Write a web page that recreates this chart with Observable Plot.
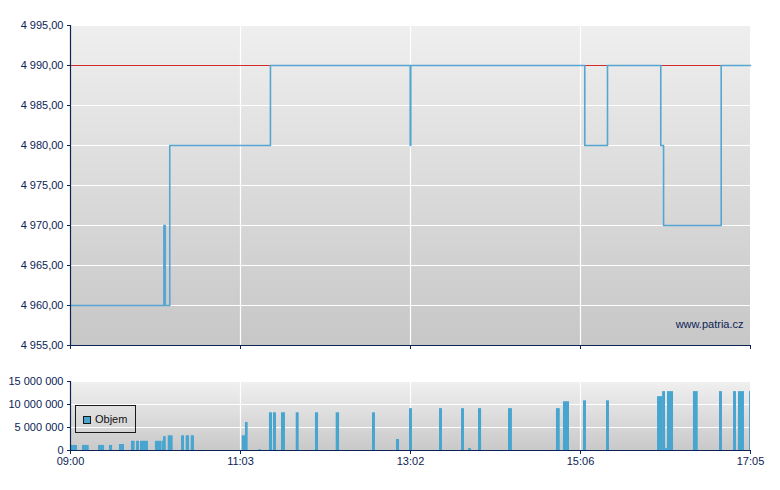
<!DOCTYPE html>
<html>
<head>
<meta charset="utf-8">
<script src="https://cdn.jsdelivr.net/npm/d3@7"></script>
<script src="https://cdn.jsdelivr.net/npm/@observablehq/plot@0.6"></script>
<style>
  body { margin: 0; background: #fff; font-family: "Liberation Sans", Arial, sans-serif; }
  #wrap { position: relative; width: 780px; height: 490px; }
  #wrap svg { display: block; }
  .legend { position: absolute; left: 75px; top: 405px; width: 61px; height: 28px; box-sizing: border-box;
            border: 1px solid #1a1a1a; font-size: 11px; color: #111; }
  .legend .sw { position: absolute; left: 7px; top: 10px; width: 8px; height: 8px; box-sizing: border-box;
                border: 1px solid #1a1a1a; background: #48a5d0; }
  .legend .lb { position: absolute; left: 19px; top: 7px; line-height: 13px; }
</style>
</head>
<body>
<div id="wrap"></div>
<script>
// ---- data (time = minutes after 09:00) ----
const priceTime  = [0, 66.6, 67.6, 70.8, 142.6, 242.3, 242.7, 366.8, 383.0, 421.0, 423.0, 464.1, 485];
const priceValue = [4960, 4970, 4960, 4980, 4990, 4980, 4990, 4980, 4990, 4980, 4970, 4990, 4990];
const prevClose = 4990;

const volStart = [0.2, 8.6, 20.0, 27.8, 34.9, 43.5, 47.1, 49.9, 60.6, 65.3, 66.3, 69.7, 79.2, 82.5, 86.1,
                  122.5, 124.8, 134.3, 141.9, 144.8, 150.5, 161.0, 174.7, 189.5, 215.4,
                  232.5, 241.8, 263.2, 278.9, 283.9, 291.0, 312.4, 346.6, 351.6, 365.9, 382.3,
                  418.7, 422.3, 424.4, 425.8, 444.3, 462.9, 472.9, 476.4, 484.3];
const volEnd   = [5.0, 13.3, 24.3, 30.0, 38.5, 46.1, 49.2, 55.6, 65.1, 66.3, 68.3, 73.2, 81.3, 84.9, 88.4,
                  124.8, 126.7, 136.0, 144.1, 146.9, 153.3, 163.1, 176.9, 191.9, 217.5,
                  234.7, 243.9, 265.3, 281.0, 286.0, 293.2, 315.2, 349.3, 355.9, 368.0, 384.4,
                  422.3, 424.4, 425.8, 430.1, 447.7, 465.0, 475.0, 480.7, 485.0];
const volValue = [1.1e6, 1.1e6, 1.1e6, 1.1e6, 1.3e6, 2.0e6, 2.0e6, 2.0e6, 2.0e6, 2.0e6, 3.0e6, 3.2e6, 3.2e6, 3.2e6, 3.2e6,
                  3.2e6, 6.1e6, 0.2e6, 8.2e6, 8.2e6, 8.2e6, 8.2e6, 8.2e6, 8.2e6, 8.2e6,
                  2.4e6, 9.1e6, 9.1e6, 9.1e6, 0.4e6, 9.1e6, 9.1e6, 9.1e6, 10.6e6, 10.8e6, 10.8e6,
                  11.7e6, 12.8e6, 0.4e6, 12.8e6, 12.8e6, 12.8e6, 12.8e6, 12.8e6, 12.8e6];

const priceTicks = [4955, 4960, 4965, 4970, 4975, 4980, 4985, 4990, 4995];
const volTicks = [0, 5e6, 10e6, 15e6];
const timeTicks = [0, 121.25, 242.5, 363.75, 485];
const timeLabels = ["09:00", "11:03", "13:02", "15:06", "17:05"];
const watermark = "www.patria.cz";
const legendLabel = "Objem";

// ---- helpers ----
const navy = "#0c2356";
const locale = d3.formatLocale({decimal: ",", thousands: " ", grouping: [3], currency: ["", ""]});
const fmtPrice = locale.format(",.2f");
const fmtVol = locale.format(",d");
const timeLabelMap = new Map(timeTicks.map((t, i) => [t, timeLabels[i]]));

function gradientBg(id, top, bottom) {
  return (index, scales, values, dims) => {
    const g = d3.create("svg:g");
    const grad = g.append("defs").append("linearGradient")
      .attr("id", id).attr("x1", 0).attr("y1", 0).attr("x2", 0).attr("y2", 1);
    grad.append("stop").attr("offset", "0%").attr("stop-color", top);
    grad.append("stop").attr("offset", "100%").attr("stop-color", bottom);
    g.append("rect")
      .attr("x", dims.marginLeft).attr("y", dims.marginTop)
      .attr("width", dims.width - dims.marginLeft - dims.marginRight)
      .attr("height", dims.height - dims.marginTop - dims.marginBottom)
      .attr("fill", `url(#${id})`);
    return g.node();
  };
}

const style = {fontFamily: '"Liberation Sans", Arial, sans-serif', fontSize: "11px", color: navy, background: "transparent", overflow: "visible"};

const priceData = priceTime.map((t, i) => ({t, v: priceValue[i]}));
const volData = volStart.map((s, i) => ({s, e: volEnd[i], v: volValue[i]}));

const price = Plot.plot({
  width: 780, height: 360,
  marginTop: 25, marginBottom: 15, marginLeft: 70, marginRight: 30,
  style,
  x: {domain: [0, 485], label: null},
  y: {domain: [4955, 4995], label: null},
  marks: [
    gradientBg("bgPrice", "#efefef", "#c7c7c7"),
    Plot.gridY(priceTicks, {stroke: "#ffffff", strokeOpacity: 1, strokeWidth: 1.2}),
    Plot.gridX(timeTicks.slice(1, -1), {stroke: "#ffffff", strokeOpacity: 1, strokeWidth: 1.2}),
    Plot.ruleY([prevClose], {stroke: "#d42b2b", strokeWidth: 1}),
    Plot.line(priceData, {x: "t", y: "v", curve: "step-after", stroke: "#55a6d0", strokeWidth: 1.6}),
    Plot.axisY(priceTicks, {tickSize: 3, tickPadding: 4, tickFormat: fmtPrice, stroke: navy, fill: navy, label: null}),
    Plot.axisX(timeTicks, {tickSize: 4, tickFormat: () => "", stroke: navy, label: null}),
    Plot.ruleX([0], {stroke: navy, strokeWidth: 1.2}),
    Plot.ruleY([4955], {stroke: navy, strokeWidth: 1.2}),
    Plot.text([watermark], {frameAnchor: "bottom-right", dx: -7, dy: -18, fill: navy, fontSize: 11})
  ]
});

const volume = Plot.plot({
  width: 780, height: 130,
  marginTop: 21, marginBottom: 40, marginLeft: 70, marginRight: 30,
  style,
  x: {domain: [0, 485], label: null},
  y: {domain: [0, 15e6], label: null},
  marks: [
    gradientBg("bgVol", "#f0f0f0", "#c9c9c9"),
    Plot.gridY(volTicks, {stroke: "#ffffff", strokeOpacity: 1, strokeWidth: 1.2}),
    Plot.gridX(timeTicks.slice(1, -1), {stroke: "#ffffff", strokeOpacity: 1, strokeWidth: 1.2}),
    Plot.rectY(volData, {x1: "s", x2: "e", y: "v", fill: "#48a5d0"}),
    Plot.axisY(volTicks, {tickSize: 3, tickPadding: 4, tickFormat: fmtVol, stroke: navy, fill: navy, label: null}),
    Plot.axisX(timeTicks, {tickSize: 4, tickPadding: 3, tickFormat: d => timeLabelMap.get(d), stroke: navy, fill: navy, label: null}),
    Plot.ruleX([0], {stroke: navy, strokeWidth: 1.2}),
    Plot.ruleY([0], {stroke: navy, strokeWidth: 1.2})
  ]
});

const wrap = document.getElementById("wrap");
wrap.appendChild(price);
wrap.appendChild(volume);
const lg = document.createElement("div");
lg.className = "legend";
lg.innerHTML = `<div class="sw"></div><div class="lb"></div>`;
lg.querySelector(".lb").textContent = legendLabel;
wrap.appendChild(lg);
</script>
</body>
</html>
